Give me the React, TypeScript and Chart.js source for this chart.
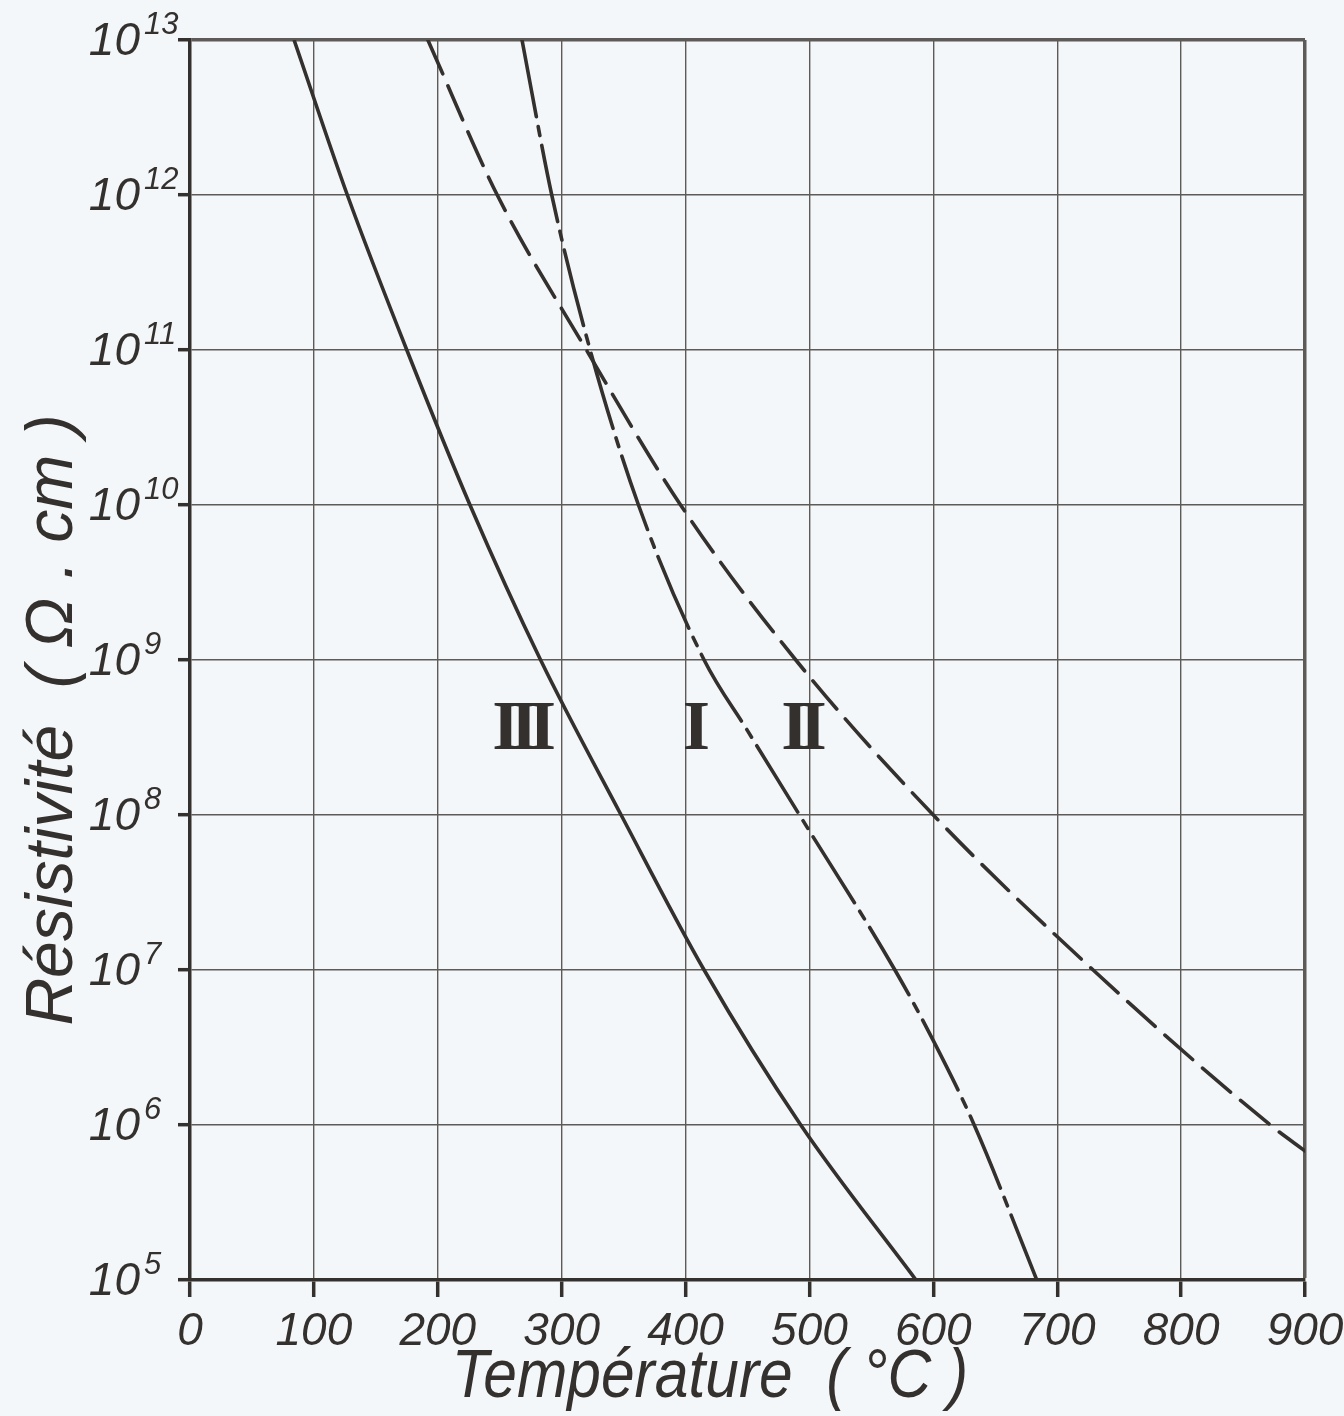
import React, { useEffect, useRef } from "react";
import { Chart, registerables } from "chart.js";

Chart.register(...registerables);

// ---- Data ----
const xTickValues = [0, 100, 200, 300, 400, 500, 600, 700, 800, 900];
const yTickValues = [1e5, 1e6, 1e7, 1e8, 1e9, 1e10, 1e11, 1e12, 1e13];
const yTickExponents = ["5", "6", "7", "8", "9", "10", "11", "12", "13"];

// Curve I (dash-dot)
const curveITemp = [268, 292, 323, 362, 415, 450, 492, 569, 600, 633, 683.5];
const curveIRes = [1e13, 1e12, 1e11, 1e10, 1e9, 3.5e8, 1e8, 1e7, 3.5e6, 1e6, 1e5];

// Curve II (dashed)
const curveIITemp = [192, 248, 320, 396, 489, 600, 729, 872, 900];
const curveIIRes = [1e13, 1e12, 1e11, 1e10, 1e9, 1e8, 1e7, 1e6, 6.8e5];

// Curve III (solid)
const curveIIITemp = [84, 127, 175, 226, 283, 348, 415, 493, 586];
const curveIIIRes = [1e13, 1e12, 1e11, 1e10, 1e9, 1e8, 1e7, 1e6, 1e5];

// Curve labels (roman numerals) at data coordinates
const curveLabels = ["III", "I", "II"];
const curveLabelTemp = [266, 405, 492];
const curveLabelRes = [3.5e8, 3.5e8, 3.5e8];

const xTitle = "Température  ( °C )";
const yTitle = "Résistivité  ( Ω . cm )";

// ---- Styles ----
const BG = "#f4f7f9";
const INK = "#34302e";
const GRID = "#5d5a58";
const HAND = '"Liberation Sans Narrow", "Liberation Sans", sans-serif';

const toPoints = (xs: number[], ys: number[]) => xs.map((x, i) => ({ x, y: ys[i] }));

const decorPlugin = {
  id: "decor",
  beforeDraw(chart: any) {
    const { ctx, width, height } = chart;
    ctx.save();
    ctx.fillStyle = BG;
    ctx.fillRect(0, 0, width, height);
    ctx.restore();
  },
  afterDraw(chart: any) {
    const { ctx, chartArea, scales } = chart;
    const xs = scales.x;
    const ys = scales.y;
    ctx.save();
    ctx.fillStyle = INK;

    // y tick labels: 10 with exponent
    yTickValues.forEach((v, i) => {
      const py = ys.getPixelForValue(v);
      ctx.font = `italic 46px ${HAND}`;
      ctx.textAlign = "right";
      ctx.textBaseline = "middle";
      ctx.fillText("10", chartArea.left - 50, py + 2);
      ctx.font = `italic 31px ${HAND}`;
      ctx.textAlign = "left";
      ctx.textBaseline = "alphabetic";
      ctx.fillText(yTickExponents[i], chartArea.left - 46, py - 6);
    });

    // roman numeral labels
    ctx.font = `bold 70px "Liberation Serif", "DejaVu Serif", serif`;
    ctx.textAlign = "center";
    ctx.textBaseline = "middle";
    try {
      (ctx as any).letterSpacing = "-9px";
    } catch (e) {}
    curveLabels.forEach((t, i) => {
      const px = xs.getPixelForValue(curveLabelTemp[i]);
      const py = ys.getPixelForValue(curveLabelRes[i]);
      ctx.fillText(t, px, py);
    });
    try {
      (ctx as any).letterSpacing = "0px";
    } catch (e) {}

    // x title (condensed lettering)
    ctx.save();
    ctx.translate(chartArea.left + 520, chartArea.bottom + 117);
    ctx.scale(0.89, 1);
    ctx.font = `italic 68px ${HAND}`;
    ctx.textAlign = "center";
    ctx.textBaseline = "alphabetic";
    ctx.fillText(xTitle, 0, 0);
    ctx.restore();

    // y title
    ctx.save();
    ctx.translate(chartArea.left - 118, chartArea.top + 680);
    ctx.rotate(-Math.PI / 2);
    ctx.font = `italic 66px ${HAND}`;
    ctx.textAlign = "center";
    ctx.textBaseline = "alphabetic";
    ctx.fillText(yTitle, 0, 0);
    ctx.restore();

    ctx.restore();
  },
};

export default function App() {
  const canvasRef = useRef<HTMLCanvasElement | null>(null);

  useEffect(() => {
    document.body.style.background = BG;
    document.body.style.margin = "0";
    const canvas = canvasRef.current;
    if (!canvas) return;

    const edgeWidth = (isEdge: boolean) => (isEdge ? 3.5 : 1.4);

    const chart = new Chart(canvas, {
      type: "line",
      data: {
        datasets: [
          {
            label: "I",
            data: toPoints(curveITemp, curveIRes),
            borderColor: INK,
            borderWidth: 3.6,
            borderDash: [78, 10, 9, 10],
            borderCapStyle: "round",
            pointRadius: 0,
            cubicInterpolationMode: "monotone",
            fill: false,
          },
          {
            label: "II",
            data: toPoints(curveIITemp, curveIIRes),
            borderColor: INK,
            borderWidth: 3.6,
            borderDash: [37, 13],
            borderCapStyle: "round",
            pointRadius: 0,
            cubicInterpolationMode: "monotone",
            fill: false,
          },
          {
            label: "III",
            data: toPoints(curveIIITemp, curveIIIRes),
            borderColor: INK,
            borderWidth: 3.6,
            pointRadius: 0,
            cubicInterpolationMode: "monotone",
            fill: false,
          },
        ],
      },
      options: {
        responsive: false,
        maintainAspectRatio: false,
        animation: false,
        devicePixelRatio: 1,
        layout: { padding: { top: 40, right: 39, left: 0, bottom: 0 } },
        plugins: {
          legend: { display: false },
          tooltip: { enabled: false },
        },
        scales: {
          x: {
            type: "linear",
            min: 0,
            max: 900,
            afterBuildTicks: (scale: any) => {
              scale.ticks = xTickValues.map((v) => ({ value: v }));
            },
            afterFit: (scale: any) => {
              scale.height = 136;
              scale.paddingLeft = 0;
              scale.paddingRight = 0;
            },
            ticks: {
              autoSkip: false,
              maxRotation: 0,
              padding: 8,
              color: INK,
              font: { family: HAND, size: 46, style: "italic" },
            },
            grid: {
              color: GRID,
              lineWidth: (c: any) => edgeWidth(c.tick && c.tick.value === 900),
              drawTicks: true,
              tickLength: 17,
              tickWidth: 3.5,
              tickColor: INK,
            },
            border: { display: true, color: INK, width: 3.5 },
          },
          y: {
            type: "logarithmic",
            min: 1e5,
            max: 1e13,
            afterBuildTicks: (scale: any) => {
              scale.ticks = yTickValues.map((v) => ({ value: v }));
            },
            afterFit: (scale: any) => {
              scale.width = 190;
              scale.paddingTop = 0;
              scale.paddingBottom = 0;
            },
            ticks: { display: false },
            grid: {
              color: GRID,
              lineWidth: (c: any) => edgeWidth(c.tick && c.tick.value === 1e13),
              drawTicks: true,
              tickLength: 12,
              tickWidth: 3.5,
              tickColor: INK,
            },
            border: { display: true, color: INK, width: 3.5 },
          },
        },
      },
      plugins: [decorPlugin],
    });

    return () => chart.destroy();
  }, []);

  return <canvas ref={canvasRef} width={1344} height={1416} style={{ display: "block" }} />;
}
